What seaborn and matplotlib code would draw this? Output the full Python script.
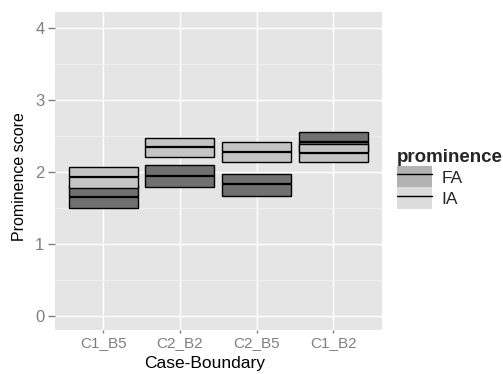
# Prominence score by case/boundary: crossbars for FA vs IA
import numpy as np
import pandas as pd
import matplotlib
matplotlib.use("Agg")
import matplotlib.pyplot as plt
import seaborn as sns
from matplotlib import font_manager
from matplotlib.patches import Patch
from matplotlib.lines import Line2D
from matplotlib.ticker import MultipleLocator

# Values (mean and interval per case)
cases = ["C1_B5", "C2_B2", "C2_B5", "C1_B2"]
fa_mid = [1.65, 1.94, 1.83, 2.42]
fa_low = [1.49, 1.79, 1.67, 2.28]
fa_high = [1.81, 2.09, 1.97, 2.56]
ia_mid = [1.93, 2.34, 2.28, 2.26]
ia_low = [1.78, 2.20, 2.14, 2.13]
ia_high = [2.07, 2.47, 2.41, 2.39]

levels = ["FA", "IA"]
bar_fill = {"FA": "#707070", "IA": "#c4c4c4"}
key_fill = {"FA": "#b3b3b3", "IA": "#dcdcdc"}

sns.set_theme(style="darkgrid", rc={"axes.facecolor": "#e5e5e5", "grid.color": "white"})
plt.rcParams["font.family"] = ["Liberation Sans", "DejaVu Sans"]

# narrow face for the rotated y title (the reference is squashed vertically)
try:
    font_manager.findfont("Liberation Sans Narrow", fallback_to_default=False)
    ylab_family = ["Liberation Sans Narrow", "Liberation Sans"]
    ylab_size = 14
except Exception:
    ylab_family = ["Liberation Sans"]
    ylab_size = 11.5

fig = plt.figure(figsize=(5.03, 3.74), dpi=100)
ax = fig.add_axes([0.109, 0.1176, 0.650, 0.850])

series = {"FA": (fa_low, fa_high, fa_mid), "IA": (ia_low, ia_high, ia_mid)}
for lvl in levels:
    low, high, mid = series[lvl]
    df = pd.DataFrame({"case": cases, "height": np.subtract(high, low)})
    # box from low to high
    sns.barplot(data=df, x="case", y="height", order=cases, bottom=low, width=0.9,
                color=bar_fill[lvl], saturation=1, edgecolor="black", linewidth=1.0,
                errorbar=None, ax=ax)
    # middle line as a zero-height bar
    mid_df = pd.DataFrame({"case": cases, "height": [0.0] * len(cases)})
    sns.barplot(data=mid_df, x="case", y="height", order=cases, bottom=mid, width=0.9,
                color="black", saturation=1, edgecolor="black", linewidth=1.6,
                errorbar=None, ax=ax)

ax.set_xlim(-0.63, 3.63)
ax.set_ylim(-0.2, 4.22)
ax.set_yticks([0, 1, 2, 3, 4])
ax.yaxis.set_minor_locator(MultipleLocator(0.5))
ax.grid(True, which="major", axis="both", color="white", linewidth=1.0)
ax.grid(True, which="minor", axis="y", color="#f2f2f2", linewidth=0.6)
ax.set_axisbelow(True)
for s in ax.spines.values():
    s.set_visible(False)

ax.tick_params(axis="x", which="major", length=2.5, width=1, color="#7f7f7f",
               labelcolor="#7f7f7f", labelsize=11, pad=1.5, bottom=True)
ax.tick_params(axis="y", which="major", length=5, width=1, color="#7f7f7f",
               labelcolor="#7f7f7f", labelsize=12, pad=2.5, left=True)
ax.tick_params(axis="both", which="minor", length=0)

ax.set_xlabel("Case-Boundary", fontsize=12.5, color="black")
ax.xaxis.set_label_coords(0.459, -0.081)
ax.set_ylabel("Prominence score", family=ylab_family, fontsize=ylab_size, color="black")
ax.yaxis.set_label_coords(-0.085, 0.483)

handles = [(Patch(facecolor=key_fill[l], edgecolor="none"), Line2D([], [], color="black", lw=1.0))
           for l in levels]
leg = fig.legend(handles=handles, labels=levels, title="prominence", loc="upper left",
                 bbox_to_anchor=(0.789, 0.601), borderaxespad=0, borderpad=0, frameon=False,
                 handlelength=2.0, handleheight=1.5, handletextpad=0.55, labelspacing=0,
                 fontsize=12.5, alignment="left",
                 title_fontproperties={"weight": "bold", "size": 13.5})

fig.savefig("out.png", dpi=100)
